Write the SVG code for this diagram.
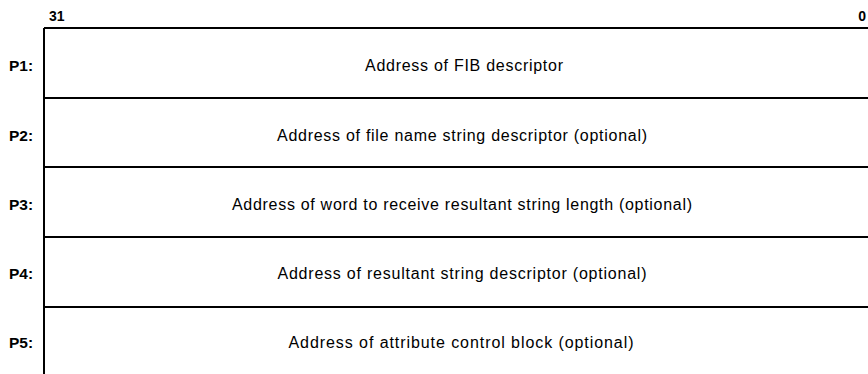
<svg xmlns="http://www.w3.org/2000/svg" width="868" height="374" viewBox="0 0 868 374">
<style>
.ln{stroke:#000;stroke-width:2;fill:none}
.lbl{font-family:"Liberation Sans",Arial,sans-serif;font-size:15.5px;font-weight:bold;fill:#000}
.hdr{font-family:"Liberation Sans",Arial,sans-serif;font-size:14px;font-weight:bold;fill:#000}
.txt{font-family:"Liberation Sans",Arial,sans-serif;font-size:16px;fill:#000;text-anchor:middle}
</style>
<rect width="868" height="374" fill="#fff"/>
<g id="header">
<text class="hdr" x="49" y="21">31</text>
<text class="hdr" x="866" y="21" text-anchor="end">0</text>
</g>
<g id="connectors">
<line class="ln" x1="44" y1="28" x2="44" y2="374"/>
<line class="ln" x1="44" y1="28" x2="868" y2="28"/>
<line class="ln" x1="44" y1="98" x2="868" y2="98"/>
<line class="ln" x1="44" y1="167" x2="868" y2="167"/>
<line class="ln" x1="44" y1="237" x2="868" y2="237"/>
<line class="ln" x1="44" y1="307" x2="868" y2="307"/>
</g>
<g id="p1">
<text class="lbl" x="9" y="71">P1:</text>
<text class="txt" x="464" y="71" textLength="198" lengthAdjust="spacing">Address of FIB descriptor</text>
</g>
<g id="p2">
<text class="lbl" x="9" y="141">P2:</text>
<text class="txt" x="462" y="141" textLength="370" lengthAdjust="spacing">Address of file name string descriptor (optional)</text>
</g>
<g id="p3">
<text class="lbl" x="9" y="210">P3:</text>
<text class="txt" x="462" y="210" textLength="460" lengthAdjust="spacing">Address of word to receive resultant string length (optional)</text>
</g>
<g id="p4">
<text class="lbl" x="9" y="279">P4:</text>
<text class="txt" x="462" y="279" textLength="369" lengthAdjust="spacing">Address of resultant string descriptor (optional)</text>
</g>
<g id="p5">
<text class="lbl" x="9" y="348">P5:</text>
<text class="txt" x="461" y="348" textLength="345" lengthAdjust="spacing">Address of attribute control block (optional)</text>
</g>
</svg>
